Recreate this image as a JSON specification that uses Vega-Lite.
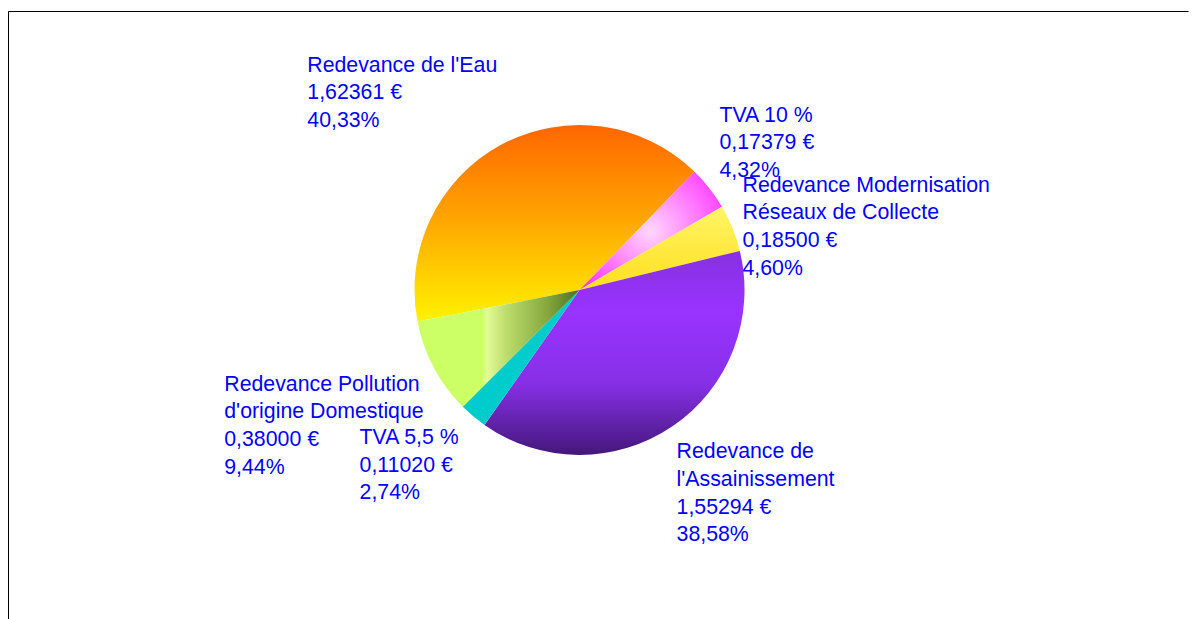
{
  "$schema": "https://vega.github.io/schema/vega-lite/v6.json",
  "width": 1186,
  "height": 608,
  "autosize": {"type": "none"},
  "padding": {"left": 8, "top": 11, "right": 0, "bottom": 0},
  "background": "#ffffff",
  "view": {"stroke": "#000000", "strokeWidth": 1, "strokeDash": [1180, 1800, 700]},
  "config": {
    "view": {"stroke": "#000000", "strokeWidth": 1, "strokeDash": [1180, 1800, 700]},
    "style": {"view": {"stroke": "#000000", "strokeWidth": 1, "strokeDash": [1180, 1800, 700]}, "cell": {"stroke": "#000000", "strokeWidth": 1, "strokeDash": [1180, 1800, 700]}}
  },
  "data": {
    "values": [
      {"idx": 1, "name": "TVA 10 %", "value": 0.17379, "label": ["TVA 10 %", "0,17379 €", "4,32%"]},
      {"idx": 2, "name": "Redevance Modernisation Réseaux de Collecte", "value": 0.185, "label": ["Redevance Modernisation", "Réseaux de Collecte", "0,18500 €", "4,60%"]},
      {"idx": 3, "name": "Redevance de l'Assainissement", "value": 1.55294, "label": ["Redevance de", "l'Assainissement", "1,55294 €", "38,58%"]},
      {"idx": 4, "name": "TVA 5,5 %", "value": 0.1102, "label": ["TVA 5,5 %", "0,11020 €", "2,74%"]},
      {"idx": 5, "name": "Redevance Pollution d'origine Domestique", "value": 0.38, "label": ["Redevance Pollution", "d'origine Domestique", "0,38000 €", "9,44%"]},
      {"idx": 6, "name": "Redevance de l'Eau", "value": 1.62361, "label": ["Redevance de l'Eau", "1,62361 €", "40,33%"]}
    ]
  },
  "transform": [
    {"stack": "value", "groupby": [], "as": ["v0", "v1"], "sort": [{"field": "idx", "order": "ascending"}]}
  ],
  "layer": [
    {
      "transform": [{"filter": "datum.idx === 6"}],
      "mark": {"type": "arc", "x": 571.5, "y": 279, "outerRadius": 165, "stroke": null,
        "fill": {"gradient": "linear", "x1": 0, "y1": 0, "x2": 0, "y2": 1,
          "stops": [{"offset": 0, "color": "#ff6600"}, {"offset": 0.45, "color": "#ffa200"}, {"offset": 1, "color": "#fff200"}]}},
      "encoding": {
        "theta": {"field": "v0", "type": "quantitative", "scale": {"domain": [0, 4.02554], "range": [0.7714, 7.0546]}},
        "theta2": {"field": "v1"}
      }
    },
    {
      "transform": [{"filter": "datum.idx === 1"}],
      "mark": {"type": "arc", "x": 571.5, "y": 279, "outerRadius": 165, "stroke": null,
        "fill": {"gradient": "radial", "x1": 0.5, "y1": 0.5, "r1": 0, "x2": 0.5, "y2": 0.5, "r2": 0.6,
          "stops": [{"offset": 0, "color": "#ffd6ff"}, {"offset": 1, "color": "#ff33ff"}]}},
      "encoding": {
        "theta": {"field": "v0", "type": "quantitative", "scale": {"domain": [0, 4.02554], "range": [0.7714, 7.0546]}},
        "theta2": {"field": "v1"}
      }
    },
    {
      "transform": [{"filter": "datum.idx === 2"}],
      "mark": {"type": "arc", "x": 571.5, "y": 279, "outerRadius": 165, "stroke": null,
        "fill": {"gradient": "linear", "x1": 0, "y1": 0, "x2": 0, "y2": 1,
          "stops": [{"offset": 0, "color": "#fff566"}, {"offset": 1, "color": "#ffdf1f"}]}},
      "encoding": {
        "theta": {"field": "v0", "type": "quantitative", "scale": {"domain": [0, 4.02554], "range": [0.7714, 7.0546]}},
        "theta2": {"field": "v1"}
      }
    },
    {
      "transform": [{"filter": "datum.idx === 3"}],
      "mark": {"type": "arc", "x": 571.5, "y": 279, "outerRadius": 165, "stroke": null,
        "fill": {"gradient": "linear", "x1": 0, "y1": 0, "x2": 0, "y2": 1,
          "stops": [{"offset": 0, "color": "#8630e0"}, {"offset": 0.3, "color": "#9933ff"}, {"offset": 0.65, "color": "#8630e6"}, {"offset": 1, "color": "#44177a"}]}},
      "encoding": {
        "theta": {"field": "v0", "type": "quantitative", "scale": {"domain": [0, 4.02554], "range": [0.7714, 7.0546]}},
        "theta2": {"field": "v1"}
      }
    },
    {
      "transform": [{"filter": "datum.idx === 4"}],
      "mark": {"type": "arc", "x": 571.5, "y": 279, "outerRadius": 165, "stroke": null, "fill": "#00cccc"},
      "encoding": {
        "theta": {"field": "v0", "type": "quantitative", "scale": {"domain": [0, 4.02554], "range": [0.7714, 7.0546]}},
        "theta2": {"field": "v1"}
      }
    },
    {
      "transform": [{"filter": "datum.idx === 5"}],
      "mark": {"type": "arc", "x": 571.5, "y": 279, "outerRadius": 165, "stroke": null,
        "fill": {"gradient": "linear", "x1": 0, "y1": 0, "x2": 1, "y2": 0,
          "stops": [{"offset": 0, "color": "#ccff66"}, {"offset": 0.4, "color": "#ccff66"}, {"offset": 0.43, "color": "#e2fa98"}, {"offset": 0.55, "color": "#bcdc6c"}, {"offset": 0.8, "color": "#86a83e"}, {"offset": 1, "color": "#4e6e1c"}]}},
      "encoding": {
        "theta": {"field": "v0", "type": "quantitative", "scale": {"domain": [0, 4.02554], "range": [0.7714, 7.0546]}},
        "theta2": {"field": "v1"}
      }
    },
    {
      "mark": {"type": "text", "x": 571.5, "y": 279, "radius": 180, "align": "left", "baseline": "alphabetic", "dx": -1.8, "dy": -57.4, "font": "Liberation Sans", "fontSize": 21.3, "lineHeight": 27.7, "fill": "#0000ff"},
      "encoding": {
        "theta": {"field": "value", "type": "quantitative", "stack": true, "scale": {"domain": [0, 4.02554], "range": [0.7714, 7.0546]}},
        "order": {"field": "idx", "type": "quantitative"},
        "text": {"condition": {"test": "datum.idx === 1", "field": "label"}, "value": ""}
      }
    },
    {
      "mark": {"type": "text", "x": 571.5, "y": 279, "radius": 180, "align": "left", "baseline": "alphabetic", "dx": -3.9, "dy": -30.9, "font": "Liberation Sans", "fontSize": 21.3, "lineHeight": 27.7, "fill": "#0000ff"},
      "encoding": {
        "theta": {"field": "value", "type": "quantitative", "stack": true, "scale": {"domain": [0, 4.02554], "range": [0.7714, 7.0546]}},
        "order": {"field": "idx", "type": "quantitative"},
        "text": {"condition": {"test": "datum.idx === 2", "field": "label"}, "value": ""}
      }
    },
    {
      "mark": {"type": "text", "x": 571.5, "y": 279, "radius": 180, "align": "left", "baseline": "alphabetic", "dx": -4.3, "dy": 19.6, "font": "Liberation Sans", "fontSize": 21.3, "lineHeight": 27.7, "fill": "#0000ff"},
      "encoding": {
        "theta": {"field": "value", "type": "quantitative", "stack": true, "scale": {"domain": [0, 4.02554], "range": [0.7714, 7.0546]}},
        "order": {"field": "idx", "type": "quantitative"},
        "text": {"condition": {"test": "datum.idx === 3", "field": "label"}, "value": ""}
      }
    },
    {
      "mark": {"type": "text", "x": 571.5, "y": 279, "radius": 180, "align": "left", "baseline": "alphabetic", "dx": -104, "dy": 16.3, "font": "Liberation Sans", "fontSize": 21.3, "lineHeight": 27.7, "fill": "#0000ff"},
      "encoding": {
        "theta": {"field": "value", "type": "quantitative", "stack": true, "scale": {"domain": [0, 4.02554], "range": [0.7714, 7.0546]}},
        "order": {"field": "idx", "type": "quantitative"},
        "text": {"condition": {"test": "datum.idx === 4", "field": "label"}, "value": ""}
      }
    },
    {
      "mark": {"type": "text", "x": 571.5, "y": 279, "radius": 180, "align": "left", "baseline": "alphabetic", "dx": -196.3, "dy": 16.2, "font": "Liberation Sans", "fontSize": 21.3, "lineHeight": 27.7, "fill": "#0000ff"},
      "encoding": {
        "theta": {"field": "value", "type": "quantitative", "stack": true, "scale": {"domain": [0, 4.02554], "range": [0.7714, 7.0546]}},
        "order": {"field": "idx", "type": "quantitative"},
        "text": {"condition": {"test": "datum.idx === 5", "field": "label"}, "value": ""}
      }
    },
    {
      "mark": {"type": "text", "x": 571.5, "y": 279, "radius": 180, "align": "left", "baseline": "alphabetic", "dx": -186.6, "dy": -60, "font": "Liberation Sans", "fontSize": 21.3, "lineHeight": 27.7, "fill": "#0000ff"},
      "encoding": {
        "theta": {"field": "value", "type": "quantitative", "stack": true, "scale": {"domain": [0, 4.02554], "range": [0.7714, 7.0546]}},
        "order": {"field": "idx", "type": "quantitative"},
        "text": {"condition": {"test": "datum.idx === 6", "field": "label"}, "value": ""}
      }
    }
  ]
}
